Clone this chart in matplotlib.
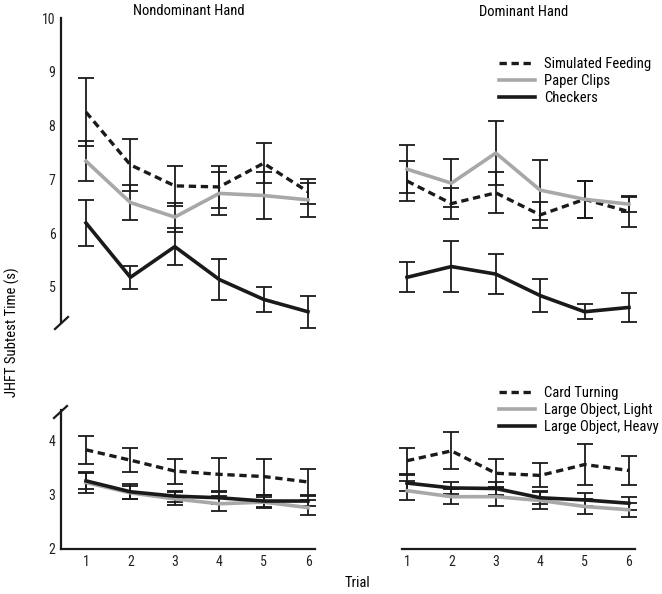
import matplotlib
matplotlib.use("Agg")
import matplotlib.pyplot as plt
from matplotlib import font_manager as fm
from matplotlib.lines import Line2D

# pick a narrow / condensed sans font if one is installed
cands = []
for f in fm.fontManager.ttflist:
    if f.style != "normal" or f.weight not in (400, "normal", "regular"):
        continue
    st = str(f.stretch)
    narrow = ("Narrow" in f.name or "Condensed" in f.name or
              st in ("condensed", "semi-condensed", "extra-condensed") or
              (st.isdigit() and int(st) < 500))
    if narrow and "Mono" not in f.name and "Serif" not in f.name:
        pref = 0
        for i, key in enumerate(["Liberation Sans Narrow", "Roboto", "Open Sans", "Noto Sans", "DejaVu Sans"]):
            if f.name.startswith(key):
                pref = 10 - i
        cands.append((pref, f.name, st))
cands.sort(reverse=True)
FONT_OK = bool(cands)
if cands:
    plt.rcParams['font.family'] = [cands[0][1], 'DejaVu Sans']
    st = cands[0][2]
    plt.rcParams['font.stretch'] = int(st) if st.isdigit() else st
else:
    plt.rcParams['font.family'] = ['Liberation Sans', 'DejaVu Sans']
plt.rcParams['font.size'] = 10
FS = 10.5 if FONT_OK else 9.5

trials = [1, 2, 3, 4, 5, 6]
trial_labels = ["1", "2", "3", "4", "5", "6"]

# Upper tasks, Nondominant hand
feed_nd = [8.25, 7.27, 6.88, 6.86, 7.30, 6.77]
feed_nd_err = [0.63, 0.49, 0.37, 0.39, 0.37, 0.23]
clips_nd = [7.34, 6.57, 6.30, 6.74, 6.70, 6.62]
clips_nd_err = [0.37, 0.33, 0.27, 0.40, 0.43, 0.32]
check_nd = [6.19, 5.18, 5.75, 5.14, 4.77, 4.54]
check_nd_err = [0.43, 0.21, 0.35, 0.38, 0.23, 0.30]

# Upper tasks, Dominant hand
feed_d = [6.97, 6.55, 6.75, 6.34, 6.63, 6.40]
feed_d_err = [0.37, 0.29, 0.38, 0.24, 0.34, 0.28]
clips_d = [7.19, 6.93, 7.49, 6.80, 6.63, 6.54]
clips_d_err = [0.45, 0.45, 0.59, 0.56, 0.34, 0.15]
check_d = [5.18, 5.38, 5.24, 4.84, 4.54, 4.62]
check_d_err = [0.28, 0.48, 0.37, 0.30, 0.14, 0.27]

# Lower tasks, Nondominant hand
card_nd = [3.82, 3.63, 3.43, 3.37, 3.33, 3.23]
card_nd_err = [0.26, 0.22, 0.23, 0.30, 0.33, 0.24]
light_nd = [3.22, 3.03, 2.92, 2.83, 2.86, 2.76]
light_nd_err = [0.20, 0.12, 0.12, 0.14, 0.10, 0.14]
heavy_nd = [3.25, 3.05, 2.97, 2.94, 2.88, 2.88]
heavy_nd_err = [0.15, 0.14, 0.10, 0.11, 0.11, 0.10]

# Lower tasks, Dominant hand
card_d = [3.62, 3.80, 3.39, 3.35, 3.55, 3.44]
card_d_err = [0.24, 0.34, 0.27, 0.22, 0.37, 0.26]
light_d = [3.07, 2.96, 2.96, 2.89, 2.78, 2.72]
light_d_err = [0.18, 0.14, 0.17, 0.15, 0.14, 0.13]
heavy_d = [3.21, 3.12, 3.11, 2.94, 2.90, 2.84]
heavy_d_err = [0.14, 0.11, 0.12, 0.12, 0.12, 0.12]

upper_labels = ["Simulated Feeding", "Paper Clips", "Checkers"]
lower_labels = ["Card Turning", "Large Object, Light", "Large Object, Heavy"]
upper_ticks = [5, 6, 7, 8, 9, 10]
lower_ticks = [2, 3, 4]

W, H = 662, 594
fig = plt.figure(figsize=(W / 100, H / 100), dpi=100)

def px_axes(x0, x1, y0, y1):
    return fig.add_axes([x0 / W, 1 - y1 / H, (x1 - x0) / W, (y1 - y0) / H])

BLACK = "#1a1a1a"
GREY = "#a8a8a8"
styles = [dict(color=BLACK, ls=(0, (2.2, 1.4)), lw=2.4),
          dict(color=GREY, ls="-", lw=2.6),
          dict(color=BLACK, ls="-", lw=2.6)]

def draw(ax, series):
    for (vals, errs), st in zip(series, styles):
        ax.errorbar(trials, vals, yerr=errs, fmt="none", ecolor=BLACK,
                    elinewidth=1.3, capsize=5.5, capthick=1.3, zorder=2)
    for (vals, errs), st in zip(series, styles):
        ax.plot(trials, vals, zorder=3, **st)

def clean(ax):
    for s in ax.spines.values():
        s.set_visible(False)
    ax.tick_params(length=0, labelsize=FS - 0.5, pad=4, colors="#222222")
    ax.set_facecolor("none")

ax_tl = px_axes(61, 320, 18, 334)
ax_tr = px_axes(395, 645, 18, 334)
ax_bl = px_axes(61, 320, 400, 549)
ax_br = px_axes(395, 645, 400, 549)

up_lim = (10 - (334 - 18) / 53.8, 10)
lo_lim = (2, 2 + (549 - 400) / 54.5)

for ax in (ax_tl, ax_tr, ax_bl, ax_br):
    clean(ax)
ax_tl.set_xlim(1 - 25 / 44.4, 6 + 12 / 44.4)
ax_bl.set_xlim(1 - 25 / 44.4, 6 + 12 / 44.4)
ax_tr.set_xlim(1 - 12 / 44.3, 6 + 16 / 44.3)
ax_br.set_xlim(1 - 12 / 44.3, 6 + 16 / 44.3)
ax_tl.set_ylim(*up_lim); ax_tr.set_ylim(*up_lim)
ax_bl.set_ylim(*lo_lim); ax_br.set_ylim(*lo_lim)

draw(ax_tl, [(feed_nd, feed_nd_err), (clips_nd, clips_nd_err), (check_nd, check_nd_err)])
draw(ax_tr, [(feed_d, feed_d_err), (clips_d, clips_d_err), (check_d, check_d_err)])
draw(ax_bl, [(card_nd, card_nd_err), (light_nd, light_nd_err), (heavy_nd, heavy_nd_err)])
draw(ax_br, [(card_d, card_d_err), (light_d, light_d_err), (heavy_d, heavy_d_err)])

ax_tl.spines["left"].set_visible(True)
ax_tl.spines["left"].set_bounds(10 - (323 - 18) / 53.8, 10)
ax_tl.spines["left"].set_linewidth(1.6)
ax_tl.spines["left"].set_color(BLACK)
ax_tl.set_yticks(upper_ticks)
ax_tl.set_yticklabels([str(t) for t in upper_ticks])
ax_tl.set_xticks([])

ax_bl.spines["left"].set_visible(True)
ax_bl.spines["left"].set_bounds(2, 2 + (549 - 410) / 54.5)
ax_bl.spines["bottom"].set_visible(True)
ax_bl.spines["bottom"].set_bounds(1 - 25 / 44.4, 6 + 7 / 44.4)
for s in ("left", "bottom"):
    ax_bl.spines[s].set_linewidth(1.6)
    ax_bl.spines[s].set_color(BLACK)
ax_bl.set_yticks(lower_ticks)
ax_bl.set_yticklabels([str(t) for t in lower_ticks])
ax_bl.set_xticks(trials)
ax_bl.set_xticklabels(trial_labels)

ax_br.spines["bottom"].set_visible(True)
ax_br.spines["bottom"].set_bounds(1 - 5 / 44.3, 6 + 6 / 44.3)
ax_br.spines["bottom"].set_linewidth(1.6)
ax_br.spines["bottom"].set_color(BLACK)
ax_br.set_xticks(trials)
ax_br.set_xticklabels(trial_labels)
ax_br.set_yticks([])
ax_tr.set_xticks([]); ax_tr.set_yticks([])

def brk(xa, ya, xb, yb):
    fig.add_artist(Line2D([xa / W, xb / W], [1 - ya / H, 1 - yb / H],
                          transform=fig.transFigure, color=BLACK, lw=1.6))
brk(55, 329, 68, 317)
brk(54, 418, 67, 406)

fig.text(189 / W, 1 - 11 / H, "Nondominant Hand", ha="center", va="center", fontsize=FS)
fig.text(524 / W, 1 - 12 / H, "Dominant Hand", ha="center", va="center", fontsize=FS)
fig.text(12 / W, 1 - 332 / H, "JHFT Subtest Time (s)", rotation=90, ha="center", va="center", fontsize=FS)
fig.text(357 / W, 1 - 583 / H, "Trial", ha="center", va="center", fontsize=FS)

def legend_handles():
    return [Line2D([], [], **st) for st in styles]

for labels, top in ((upper_labels, 57), (lower_labels, 386)):
    fig.legend(legend_handles(), labels, loc="upper left",
               bbox_to_anchor=(499 / W, 1 - top / H), frameon=False, borderpad=0,
               borderaxespad=0, handlelength=2.5, handletextpad=0.6,
               labelspacing=0.2, fontsize=FS)

fig.savefig("out.png", dpi=100)
